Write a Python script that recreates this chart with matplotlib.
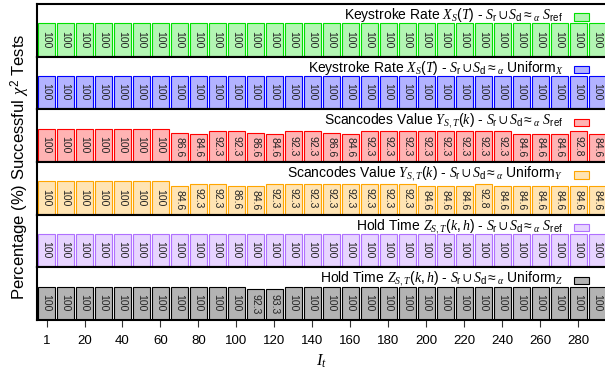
import matplotlib
matplotlib.use('Agg')
import matplotlib.pyplot as plt
from matplotlib.patches import Rectangle
from matplotlib.colors import to_rgb

plt.rcParams['font.family'] = ['Liberation Sans', 'DejaVu Sans']
plt.rcParams['mathtext.fontset'] = 'custom'
plt.rcParams['mathtext.rm'] = 'Liberation Sans'
plt.rcParams['mathtext.sf'] = 'Liberation Sans'
plt.rcParams['mathtext.it'] = 'Liberation Serif:italic'
plt.rcParams['mathtext.fallback'] = 'stix'

# I_t values, one bar each
it_values = [1] + list(range(10, 300, 10))
tick_values = [1] + list(range(20, 300, 20))

keystroke_ref = [100] * 30
keystroke_unif = [100] * 30
scancode_ref = [100, 100, 100, 100, 100, 100, 100, 86.6, 84.6, 92.3,
                92.3, 86.6, 84.6, 92.3, 92.3, 86.6, 84.6, 92.3, 92.3, 92.3,
                92.3, 92.3, 92.3, 92.3, 92.3, 84.6, 84.6, 84.6, 92.8, 84.6]
scancode_unif = [100, 100, 100, 100, 100, 100, 100, 84.6, 92.3, 92.3,
                 86.6, 84.6, 92.3, 92.3, 92.3, 92.3, 92.3, 92.3, 92.3, 92.3,
                 84.6, 84.6, 84.6, 92.8, 84.6, 84.6, 84.6, 84.6, 84.6, 84.6]
hold_ref = [100] * 30
hold_unif = [100] * 11 + [92.3, 93.3] + [100] * 17

rel = r'$S_\mathrm{r} \cup S_\mathrm{d} \approx_\alpha$'
titles = [
    r'Keystroke Rate $X_S\mathit{(T)}$ - ' + rel + r' $S_\mathrm{ref}$',
    r'Keystroke Rate $X_S\mathit{(T)}$ - ' + rel + r' Uniform$_X$',
    r'Scancodes Value $Y_{S,T}\mathit{(k)}$ - ' + rel + r' $S_\mathrm{ref}$',
    r'Scancodes Value $Y_{S,T}\mathit{(k)}$ - ' + rel + r' Uniform$_Y$',
    r'Hold Time $Z_{S,T}\mathit{(k,h)}$ - ' + rel + r' $S_\mathrm{ref}$',
    r'Hold Time $Z_{S,T}\mathit{(k,h)}$ - ' + rel + r' Uniform$_Z$',
]
series = [keystroke_ref, keystroke_unif, scancode_ref, scancode_unif, hold_ref, hold_unif]
edge_colors = ['#00e000', '#0000ff', '#ff0000', '#ffa500', '#b070ff', '#000000']


def lighten(c, a=0.3):
    r, g, b = to_rgb(c)
    return (1 - a + a * r, 1 - a + a * g, 1 - a + a * b)


W, H = 605, 371
fig = plt.figure(figsize=(W / 100, H / 100), dpi=100)

left = 37 / W
width = 570 / W
ph = 52.67
top_px = 4

pos = list(range(len(it_values)))
for i, (vals, title, ec) in enumerate(zip(series, titles, edge_colors)):
    bottom = 1 - (top_px + (i + 1) * ph) / H
    ax = fig.add_axes([left, bottom, width, ph / H])
    fc = lighten(ec)
    ax.bar(pos, vals, width=0.9, color=fc, edgecolor=ec, linewidth=0.8)
    for x, v in zip(pos, vals):
        lab = '%g' % v
        ax.text(x, v / 2 + 2, lab, rotation=270, ha='center', va='center',
                fontsize=7.5, color='#222222')
    ax.set_xlim(-0.5, 29.5)
    ax.set_ylim(0, 158)
    ax.set_yticks([])
    ax.text(0.923, 0.71, title, transform=ax.transAxes, ha='right',
            va='baseline', fontsize=10)
    ax.add_patch(Rectangle((0.942, 0.683), 0.026, 0.14, transform=ax.transAxes,
                           facecolor=fc, edgecolor=ec, linewidth=0.8, clip_on=False))
    for s in ['left', 'top', 'bottom', 'right']:
        ax.spines[s].set_linewidth(1.5)
    if i < 5:
        ax.set_xticks([])
    else:
        ax.set_xticks([it_values.index(t) for t in tick_values])
        ax.set_xticklabels([str(t) for t in tick_values], fontsize=9.5)
        ax.tick_params(axis='x', direction='out', length=5, width=0.8,
                       color='#333333', pad=6)

fig.text(20 / W, 1 - 167 / H, r'Percentage (%) Successful $\chi^2$ Tests',
         rotation=90, ha='center', va='center', fontsize=12)
fig.text(322 / W, 1 - 361 / H, r'$I_t$', ha='center', va='center', fontsize=12)

fig.savefig('out.png', dpi=100)
